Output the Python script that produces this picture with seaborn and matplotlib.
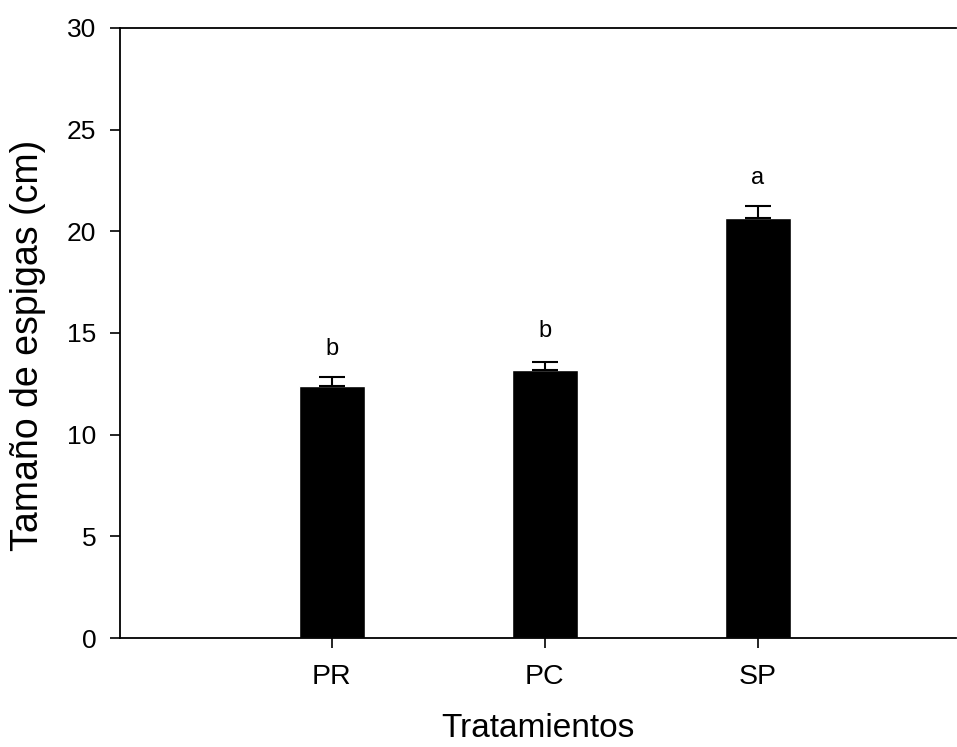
import matplotlib
matplotlib.use("Agg")
import matplotlib.pyplot as plt
import seaborn as sns
import pandas as pd

categories = ["PR", "PC", "SP"]
means = [12.38, 13.16, 20.66]
errors = [0.44, 0.41, 0.57]
letters = ["b", "b", "a"]
letter_y = [14.2, 15.08, 22.63]

sns.set_style("white")
plt.rcParams['font.family'] = ['Liberation Sans', 'DejaVu Sans']
plt.rcParams.update({"text.color": "black", "axes.labelcolor": "black",
                     "xtick.color": "black", "ytick.color": "black"})

df = pd.DataFrame({"Tratamiento": categories, "Media": means})

W, H = 957, 747
fig = plt.figure(figsize=(W / 100, H / 100), dpi=100)
ax = fig.add_axes([120 / W, (H - 638) / H, (956 - 120) / W, (638 - 28) / H])

sns.barplot(data=df, x="Tratamiento", y="Media", color="black", width=0.307,
            saturation=1, errorbar=None, ax=ax)
for i, (m, e) in enumerate(zip(means, errors)):
    ax.errorbar(i, m, yerr=[[0], [e]], fmt="none", ecolor="black",
                elinewidth=1.5, capsize=9.5, capthick=1.5)
    ax.text(i, letter_y[i], letters[i], ha="center", va="center", fontsize=17)

ax.set_xlim(-0.995, 2.93)
ax.set_ylim(0, 30)
ax.set_yticks([0, 5, 10, 15, 20, 25, 30])
ax.set_xlabel("Tratamientos", fontsize=24, labelpad=16)
ax.set_ylabel("Tamaño de espigas (cm)", fontsize=27, labelpad=15)
ax.yaxis.label.set_y(0.48)
ax.tick_params(axis="both", direction="out", length=7, width=1.2,
               color="black", bottom=True, left=True)
ax.tick_params(axis="x", labelsize=20.5, pad=12)
ax.tick_params(axis="y", labelsize=19, pad=10)
for s in ["left", "bottom", "top"]:
    ax.spines[s].set_visible(True)
    ax.spines[s].set_color("black")
    ax.spines[s].set_linewidth(1.3)
ax.spines["right"].set_visible(False)

fig.savefig("out.png", dpi=100)
